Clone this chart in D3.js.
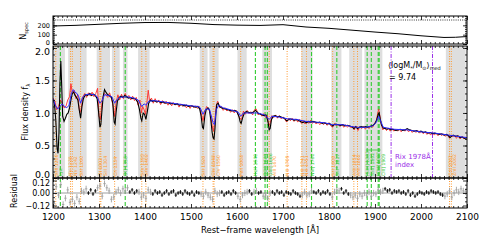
<!DOCTYPE html>
<html>
<head>
<meta charset="utf-8">
<script src="https://cdn.jsdelivr.net/npm/d3@7"></script>
<style>
  body { margin: 0; background: #fff; }
  svg { display: block; }
  text { font-family: "DejaVu Sans", sans-serif; }
</style>
</head>
<body>
<svg id="chart" width="485" height="242"></svg>
<script>
// number of stacked spectra per wavelength
const nspec = [[1200,193],[1250,200],[1300,211],[1350,222],[1400,230],[1450,231],[1500,222],[1550,208],[1600,202],
  [1650,199],[1700,207],[1750,182],[1800,168],[1850,148],[1900,128],[1950,110],[2000,88],[2050,70],[2075,72],[2100,80]];
const nspecTotal = 257;

// stacked spectrum (black)
const stack = [[1200,1.21],[1203,1.15],[1206,0.90],[1209,0.45],[1211,0.38],[1213,0.70],[1215,1.45],[1217,1.80],[1219,1.40],
  [1221,0.95],[1224,0.87],[1227,0.92],[1230,0.98],[1233,1.00],[1236,1.08],[1239,1.20],[1242,1.30],[1245,1.32],[1248,1.27],
  [1251,1.24],[1254,1.20],[1257,1.05],[1260,0.92],[1263,1.10],[1266,1.22],[1270,1.28],[1275,1.27],[1280,1.30],[1284,1.27],
  [1288,1.29],[1292,1.27],[1296,1.22],[1299,1.02],[1302,0.78],[1304,0.82],[1306,1.00],[1309,1.25],[1312,1.36],[1315,1.32],
  [1319,1.28],[1323,1.26],[1327,1.24],[1330,1.15],[1333,0.86],[1335,0.83],[1337,1.00],[1340,1.18],[1344,1.24],[1348,1.26],
  [1352,1.24],[1356,1.27],[1360,1.25],[1364,1.23],[1368,1.24],[1372,1.22],[1376,1.23],[1380,1.21],[1384,1.17],[1388,1.05],
  [1391,0.92],[1393,0.88],[1396,1.00],[1399,0.98],[1402,0.90],[1405,1.02],[1408,1.15],[1412,1.20],[1416,1.18],[1420,1.19],
  [1425,1.17],[1430,1.18],[1435,1.16],[1440,1.17],[1445,1.15],[1450,1.16],[1455,1.14],[1460,1.15],[1465,1.13],[1470,1.14],
  [1475,1.12],[1480,1.13],[1485,1.11],[1490,1.12],[1495,1.10],[1500,1.11],[1505,1.10],[1510,1.09],[1515,1.10],[1519,1.06],
  [1522,0.95],[1525,0.78],[1527,0.76],[1530,0.95],[1533,1.05],[1537,1.08],[1540,1.05],[1543,0.90],[1546,0.70],[1548,0.62],
  [1550,0.60],[1552,0.75],[1554,0.98],[1556,1.13],[1559,1.15],[1562,1.10],[1566,1.08],[1570,1.07],[1575,1.06],[1580,1.05],
  [1585,1.04],[1590,1.03],[1595,1.04],[1600,1.02],[1604,0.95],[1607,0.86],[1609,0.84],[1612,0.92],[1616,1.00],[1620,1.02],
  [1625,1.01],[1630,1.00],[1635,1.01],[1640,1.04],[1643,1.02],[1647,0.99],[1651,0.98],[1655,0.97],[1659,0.96],[1663,0.97],
  [1667,0.88],[1670,0.74],[1672,0.76],[1675,0.90],[1679,0.95],[1683,0.96],[1688,0.94],[1693,0.95],[1698,0.93],[1703,0.92],
  [1708,0.88],[1711,0.89],[1715,0.91],[1720,0.90],[1725,0.89],[1730,0.90],[1735,0.88],[1740,0.86],[1743,0.85],[1747,0.87],
  [1751,0.85],[1755,0.87],[1760,0.86],[1765,0.87],[1770,0.86],[1775,0.85],[1780,0.86],[1785,0.84],[1790,0.85],[1795,0.83],
  [1800,0.84],[1805,0.82],[1808,0.80],[1811,0.82],[1815,0.83],[1820,0.82],[1825,0.81],[1830,0.82],[1835,0.80],[1840,0.81],
  [1845,0.80],[1850,0.79],[1854,0.76],[1858,0.79],[1862,0.76],[1866,0.78],[1870,0.79],[1875,0.78],[1880,0.79],[1884,0.78],
  [1888,0.79],[1892,0.80],[1896,0.81],[1900,0.84],[1904,0.90],[1907,0.98],[1909,1.00],[1911,0.92],[1914,0.82],[1918,0.77],
  [1922,0.76],[1926,0.75],[1930,0.76],[1935,0.74],[1940,0.75],[1945,0.73],[1950,0.74],[1955,0.75],[1960,0.73],[1965,0.74],
  [1970,0.76],[1975,0.74],[1980,0.73],[1985,0.72],[1990,0.73],[1995,0.71],[2000,0.72],[2005,0.70],[2010,0.71],[2015,0.69],
  [2020,0.70],[2025,0.68],[2030,0.69],[2035,0.68],[2040,0.67],[2045,0.68],[2050,0.66],[2055,0.67],[2060,0.65],[2063,0.62],
  [2066,0.64],[2070,0.66],[2075,0.64],[2080,0.65],[2085,0.62],[2090,0.63],[2095,0.61],[2100,0.62]];

// second spectrum (red, noisier)
const redSpec = [[1200,1.23],[1204,1.18],[1208,1.05],[1212,1.10],[1216,1.20],[1220,1.15],[1224,1.08],[1228,1.10],[1232,1.20],
  [1236,1.25],[1239,1.45],[1242,1.30],[1246,1.35],[1250,1.22],[1254,1.28],[1258,1.00],[1261,1.05],[1265,1.25],[1269,1.30],
  [1273,1.24],[1277,1.31],[1281,1.26],[1285,1.32],[1289,1.25],[1293,1.30],[1297,1.38],[1300,0.95],[1303,0.90],[1307,1.20],
  [1311,1.30],[1315,1.28],[1319,1.24],[1323,1.31],[1327,1.22],[1331,1.10],[1334,0.95],[1337,1.15],[1341,1.28],[1345,1.20],
  [1349,1.29],[1353,1.22],[1357,1.30],[1361,1.23],[1365,1.27],[1369,1.20],[1373,1.26],[1377,1.19],[1381,1.24],[1385,1.12],
  [1389,1.20],[1392,1.00],[1395,1.10],[1398,1.05],[1401,0.98],[1404,1.15],[1407,1.35],[1410,1.18],[1414,1.23],[1418,1.15],
  [1422,1.22],[1426,1.16],[1430,1.20],[1434,1.13],[1438,1.19],[1442,1.14],[1446,1.18],[1450,1.12],[1454,1.17],[1458,1.11],
  [1462,1.16],[1466,1.12],[1470,1.15],[1474,1.09],[1478,1.14],[1482,1.10],[1486,1.13],[1490,1.08],[1494,1.12],[1498,1.07],
  [1502,1.12],[1506,1.08],[1510,1.11],[1514,1.07],[1518,1.10],[1522,1.00],[1526,0.88],[1530,1.02],[1534,1.10],[1538,1.06],
  [1542,1.00],[1546,0.80],[1549,0.72],[1552,0.90],[1555,1.12],[1558,1.18],[1562,1.08],[1566,1.10],[1570,1.04],[1574,1.08],
  [1578,1.03],[1582,1.06],[1586,1.01],[1590,1.05],[1594,1.00],[1598,1.04],[1602,0.98],[1606,0.92],[1610,0.90],[1614,1.03],
  [1618,0.98],[1622,1.04],[1626,0.99],[1630,1.02],[1634,0.97],[1638,1.05],[1642,1.06],[1646,0.97],[1650,1.00],[1654,0.95],
  [1658,0.99],[1662,0.93],[1666,0.96],[1669,0.80],[1672,0.84],[1676,0.96],[1680,0.93],[1684,0.97],[1688,0.92],[1692,0.96],
  [1696,0.91],[1700,0.94],[1704,0.90],[1708,0.86],[1712,0.92],[1716,0.88],[1720,0.92],[1724,0.87],[1728,0.91],[1732,0.86],
  [1736,0.90],[1740,0.84],[1744,0.88],[1748,0.83],[1752,0.88],[1756,0.84],[1760,0.89],[1764,0.84],[1768,0.87],[1772,0.83],
  [1776,0.86],[1780,0.82],[1784,0.86],[1788,0.82],[1792,0.85],[1796,0.81],[1800,0.85],[1804,0.80],[1808,0.78],[1812,0.84],
  [1816,0.80],[1820,0.83],[1824,0.79],[1828,0.83],[1832,0.78],[1836,0.82],[1840,0.78],[1844,0.81],[1848,0.77],[1852,0.80],
  [1855,0.74],[1859,0.80],[1863,0.73],[1867,0.79],[1871,0.76],[1875,0.80],[1879,0.75],[1883,0.79],[1887,0.76],[1891,0.80],
  [1895,0.78],[1899,0.84],[1903,0.88],[1906,1.00],[1908,1.06],[1910,0.98],[1913,0.85],[1917,0.74],[1921,0.78],[1925,0.73],
  [1929,0.77],[1933,0.72],[1937,0.76],[1941,0.72],[1945,0.75],[1949,0.72],[1953,0.75],[1957,0.71],[1961,0.75],[1965,0.72],
  [1969,0.75],[1973,0.71],[1977,0.74],[1981,0.70],[1985,0.73],[1989,0.70],[1993,0.73],[1997,0.69],[2001,0.72],[2005,0.68],
  [2009,0.71],[2013,0.67],[2017,0.70],[2021,0.66],[2025,0.70],[2029,0.66],[2033,0.69],[2037,0.65],[2041,0.69],[2045,0.65],
  [2049,0.68],[2053,0.64],[2057,0.67],[2061,0.62],[2065,0.66],[2069,0.63],[2073,0.66],[2077,0.61],[2081,0.65],[2085,0.60],
  [2089,0.64],[2093,0.60],[2097,0.63],[2100,0.61]];

// best-fit model (blue)
const model = [[1200,1.22],[1205,1.12],[1210,1.06],[1215,1.10],[1220,1.14],[1225,1.10],[1230,1.08],[1235,1.12],[1240,1.30],
  [1244,1.36],[1248,1.32],[1252,1.30],[1256,1.25],[1260,1.15],[1264,1.24],[1270,1.28],[1280,1.29],[1290,1.28],[1296,1.25],
  [1302,1.15],[1306,1.18],[1312,1.28],[1320,1.27],[1328,1.25],[1334,1.15],[1338,1.20],[1345,1.24],[1360,1.25],[1375,1.23],
  [1385,1.20],[1393,1.10],[1398,1.14],[1402,1.12],[1408,1.18],[1420,1.19],[1440,1.17],[1460,1.15],[1480,1.13],[1500,1.11],
  [1515,1.10],[1520,1.08],[1526,0.98],[1532,1.06],[1540,1.06],[1548,0.85],[1551,0.82],[1555,1.05],[1560,1.12],[1570,1.08],
  [1590,1.04],[1603,1.01],[1608,0.95],[1614,1.00],[1630,1.00],[1645,1.00],[1660,0.97],[1670,0.90],[1676,0.95],[1690,0.94],
  [1710,0.91],[1730,0.90],[1750,0.87],[1770,0.86],[1790,0.85],[1808,0.82],[1830,0.82],[1850,0.79],[1862,0.78],[1880,0.78],
  [1895,0.80],[1903,0.86],[1908,0.95],[1912,0.88],[1918,0.78],[1940,0.75],[1970,0.74],[2000,0.71],[2030,0.69],[2060,0.66],
  [2080,0.64],[2100,0.62]];

// residuals, one every 5 A starting at 1202 A
const resStart = 1202, resStep = 5;
const residuals = [
  -0.10, 0.06,-0.02, 0.08,-0.11,-0.05, 0.03,-0.09,-0.06,-0.10,
  -0.04,-0.08, 0.02, 0.01, 0.04, 0.00, 0.03,-0.01, 0.02, 0.05,
   0.07,-0.03, 0.09, 0.05, 0.02,-0.06,-0.04, 0.01, 0.03, 0.00,
   0.04, 0.02, 0.05, 0.01, 0.03, 0.00, 0.02, 0.01,-0.04,-0.02,
  -0.05, 0.03, 0.01,-0.01, 0.02, 0.00, 0.01,-0.02, 0.00, 0.02,
  -0.01, 0.01, 0.02,-0.02, 0.00, 0.01,-0.01, 0.02, 0.00,-0.01,
   0.01,-0.02, 0.01, 0.00,-0.01,-0.03, 0.01,-0.02,-0.04,-0.06,
   0.02,-0.01, 0.00, 0.01,-0.02, 0.00, 0.01,-0.01, 0.02, 0.00,
  -0.03,-0.06,-0.02, 0.00, 0.01, 0.02,-0.01, 0.01, 0.02, 0.00,
   0.01,-0.03,-0.02,-0.05, 0.00, 0.01,-0.01, 0.02, 0.00, 0.01,
  -0.02, 0.01, 0.00,-0.01, 0.02, 0.00,-0.01,-0.03,-0.02, 0.01,
  -0.02,-0.01, 0.02, 0.01, 0.00, 0.02,-0.01, 0.01, 0.00, 0.02,
  -0.01,-0.04, 0.01, 0.03, 0.02, 0.04, 0.00, 0.02,-0.01,-0.02,
  -0.04,-0.02,-0.05,-0.01,-0.03, 0.00,-0.02, 0.01,-0.03, 0.00,
  -0.01, 0.03, 0.01, 0.02, 0.04, 0.02, 0.03, 0.00, 0.02, 0.01,
   0.02, 0.00, 0.01,-0.01, 0.02,-0.02, 0.00,-0.03,-0.01, 0.01,
   0.00,-0.01, 0.01, 0.00, 0.02, 0.01, 0.00, 0.01,-0.01,-0.02,
  -0.03,-0.01, 0.02,-0.04, 0.00, 0.03, 0.01, 0.04, 0.02, 0.01];
const resErrGood = 0.018, resErrMasked = 0.03;

// masked windows (grey bands, grey residuals)
const greyBands = [[1200,1226],[1233,1273],[1295,1324],[1328,1345],[1352,1362],[1385,1410],[1519,1536],[1540,1560],
  [1601,1621],[1655,1676],[1740,1764],[1805,1827],[1844,1872],[1877,1916],[2054,2097]];
const residMask = [[1200,1275],[1293,1347],[1352,1362],[1383,1412],[1518,1562],[1600,1622],[1636,1644],[1655,1676],
  [1738,1766],[1803,1822],[1843,1918],[2052,2100]];

// interstellar absorption lines (orange dotted) and nebular / stellar lines (green dashed)
const ismLines = [[1206,"SiIII 1206"],[1238,"NV 1238"],[1242,"NV 1242"],[1260,"SiII 1260"],[1302,"OI 1302"],
  [1304,"SiII 1304"],[1334,"CII 1334"],[1393,"SiIV 1393"],[1402,"SiIV 1402"],[1526,"SiII 1526"],[1548,"CIV 1548"],
  [1550,"CIV 1550"],[1608,"FeII 1608"],[1670,"AlII 1670"],[1709,"NiII 1709"],[1741,"NiII 1741"],[1751,"NiII 1751"],
  [1808,"SiII 1808"],[1854,"AlIII 1854"],[1862,"AlIII 1862"],[2062,"CrII 2062"],[2066,"ZnII 2062"]];
const emLines = [[1216,"Lyα"],[1357,"OI] 1356"],[1640,"HeII 1640"],[1661,"OIII] 1661"],[1666,"OIII] 1666"],
  [1762,"NIII] 1760"],[1817,"SiII* 1817"],[1883,"[SiIII] 1883"],[1892,"SiIII] 1892"],[1907,"[CIII] 1907"],[1909,"CIII] 1909"]];
const rixIndex = [1935, 2025];

const xTickMajor = d3.range(1200, 2101, 100);
const xTickMinor = d3.range(1200, 2101, 10);

const C = { orange: "#ff9a30", green: "#33cc33", purple: "#9b30e8", red: "#ff2a2a", blue: "#2b2bff", band: "#dedede" };

const svg = d3.select("#chart");
const X0 = 53, X1 = 467;
const x = d3.scaleLinear().domain([1200, 2100]).range([X0, X1]);
const yTop = d3.scaleLinear().domain([0, 300]).range([44, 16]);
const yMain = d3.scaleLinear().domain([0, 2.03]).range([178, 46]);
const yRes = d3.scaleLinear().domain([-0.144, 0.144]).range([208, 178]);

const inMask = (w, ranges) => ranges.some(r => w >= r[0] && w <= r[1]);

// clip paths
function clip(id, y0, y1) {
  svg.append("clipPath").attr("id", id).append("rect")
    .attr("x", X0).attr("y", y0).attr("width", X1 - X0).attr("height", y1 - y0);
}
clip("cTop", 16, 44); clip("cMain", 46, 178); clip("cRes", 178, 208);

// grey bands in main panel
svg.append("g").selectAll("rect").data(greyBands).join("rect")
  .attr("x", d => x(d[0])).attr("width", d => x(d[1]) - x(d[0]))
  .attr("y", yMain.range()[1]).attr("height", yMain.range()[0] - yMain.range()[1])
  .attr("fill", C.band);

// vertical line markers through main + residual panels
const markers = svg.append("g");
markers.selectAll("line.ism").data(ismLines).join("line")
  .attr("x1", d => x(d[0])).attr("x2", d => x(d[0])).attr("y1", 46).attr("y2", 208)
  .attr("stroke", C.orange).attr("stroke-width", 1).attr("stroke-dasharray", "1,1.5");
markers.selectAll("line.em").data(emLines).join("line")
  .attr("x1", d => x(d[0])).attr("x2", d => x(d[0])).attr("y1", 46).attr("y2", 208)
  .attr("stroke", C.green).attr("stroke-width", 1.1).attr("stroke-dasharray", "4,2");
markers.selectAll("line.rix").data(rixIndex).join("line")
  .attr("x1", d => x(d)).attr("x2", d => x(d)).attr("y1", 46).attr("y2", 178)
  .attr("stroke", C.purple).attr("stroke-width", 1).attr("stroke-dasharray", "4,1.5,1,1.5");

// rotated line labels at the bottom of main panel, nudged apart when crowded
const labels = ismLines.map(d => ({ w: d[0], t: d[1], c: C.orange }))
  .concat(emLines.map(d => ({ w: d[0], t: d[1], c: C.green })))
  .sort((a, b) => a.w - b.w);
let lastX = -99;
labels.forEach(l => { l.px = Math.max(x(l.w) + 2, lastX + 4.6); lastX = l.px; });
svg.append("g").selectAll("text").data(labels).join("text")
  .attr("transform", d => `translate(${d.px},176) rotate(-90)`)
  .attr("font-size", 4.6).attr("fill", d => d.c).text(d => d.t);
svg.append("line").attr("x1", x(1880)).attr("x2", x(1912)).attr("y1", 150).attr("y2", 150)
  .attr("stroke", C.green).attr("stroke-width", 0.8);

// spectra
const line = d3.line().x(d => x(d[0])).y(d => yMain(d[1]));
const spec = svg.append("g").attr("clip-path", "url(#cMain)").attr("fill", "none");
spec.append("path").datum(redSpec).attr("d", line).attr("stroke", C.red).attr("stroke-width", 0.9);
spec.append("path").datum(stack).attr("d", line).attr("stroke", "#000").attr("stroke-width", 1.1);
spec.append("path").datum(model).attr("d", line).attr("stroke", C.blue).attr("stroke-width", 1);

// top panel: number of spectra
svg.append("line").attr("x1", X0).attr("x2", X1).attr("y1", yTop(nspecTotal)).attr("y2", yTop(nspecTotal))
  .attr("stroke", "#000").attr("stroke-width", 0.8).attr("stroke-dasharray", "1,1.2");
svg.append("path").datum(nspec).attr("clip-path", "url(#cTop)").attr("fill", "none")
  .attr("stroke", "#000").attr("stroke-width", 1)
  .attr("d", d3.line().x(d => x(d[0])).y(d => yTop(d[1])));

// residual panel
svg.append("line").attr("x1", X0).attr("x2", X1).attr("y1", yRes(0)).attr("y2", yRes(0))
  .attr("stroke", "#777").attr("stroke-width", 0.7);
const resData = residuals.map((v, i) => {
  const w = resStart + i * resStep;
  const m = inMask(w, residMask);
  return { w, v, m, e: m ? resErrMasked : resErrGood };
});
const rg = svg.append("g").attr("clip-path", "url(#cRes)");
const pts = rg.selectAll("g").data(resData).join("g").attr("stroke", d => d.m ? "#a0a0a0" : "#000").attr("stroke-width", 0.9);
pts.append("line").attr("x1", d => x(d.w)).attr("x2", d => x(d.w))
  .attr("y1", d => yRes(d.v - d.e)).attr("y2", d => yRes(d.v + d.e));
pts.append("line").attr("x1", d => x(d.w) - 1.2).attr("x2", d => x(d.w) + 1.2)
  .attr("y1", d => yRes(d.v)).attr("y2", d => yRes(d.v));

// frames and inward ticks; nudge shifts crowded edge labels
function frame(yScale, yMajor, yMinor, fmt, xLabels, fs, nudge) {
  const [yb, yt] = yScale.range();
  svg.append("rect").attr("x", X0).attr("y", yt).attr("width", X1 - X0).attr("height", yb - yt)
    .attr("fill", "none").attr("stroke", "#000").attr("stroke-width", 1);
  const clean = g => { g.select(".domain").remove(); g.selectAll("line").attr("stroke-width", 0.8); };
  const add = (axis, tx, ty) => svg.append("g").attr("transform", `translate(${tx},${ty})`).call(axis).call(clean);
  const minorX = xTickMinor.filter(v => v % 100);
  add(d3.axisTop(x).tickValues(minorX).tickSize(-2).tickFormat(""), 0, yt);
  add(d3.axisTop(x).tickValues(xTickMajor).tickSize(-4).tickFormat(""), 0, yt);
  add(d3.axisBottom(x).tickValues(minorX).tickSize(-2).tickFormat(""), 0, yb);
  const bx = add(d3.axisBottom(x).tickValues(xTickMajor).tickSize(-4).tickPadding(6)
    .tickFormat(xLabels ? d3.format("d") : ""), 0, yb);
  bx.selectAll("text").attr("font-size", 9).attr("font-family", "DejaVu Sans").attr("fill", "#000");
  add(d3.axisLeft(yScale).tickValues(yMinor).tickSize(-2).tickFormat(""), X0, 0);
  const ly = add(d3.axisLeft(yScale).tickValues(yMajor).tickSize(-4).tickPadding(3).tickFormat(fmt), X0, 0);
  ly.selectAll("text").attr("font-size", fs).attr("font-family", "DejaVu Sans").attr("fill", "#000")
    .attr("transform", d => `translate(0,${nudge[d] || 0})`);
  add(d3.axisRight(yScale).tickValues(yMinor).tickSize(-2).tickFormat(""), X1, 0);
  add(d3.axisRight(yScale).tickValues(yMajor).tickSize(-4).tickFormat(""), X1, 0);
}
frame(yTop, [0, 100, 200], d3.range(0, 301, 20), d3.format("d"), false, 6.5, { 0: -1.5 });
frame(yMain, [0, 0.5, 1, 1.5, 2], d3.range(0, 2.01, 0.1), d3.format(".1f"), false, 9.5, { 0: -4, 2: 3.5 });
frame(yRes, [-0.12, 0, 0.12], [-0.08, -0.04, 0.04, 0.08], d => d3.format(".2f")(d).replace("-", "\u2212"), true,
  8, { 0.12: 2 });

// axis titles
const nt = svg.append("text").attr("transform", "translate(26,31) rotate(-90)").attr("text-anchor", "middle").attr("font-size", 8);
nt.append("tspan").text("N");
nt.append("tspan").attr("font-size", 5).attr("dy", 1.5).text("spec");
const ft = svg.append("text").attr("transform", "translate(28,112) rotate(-90)").attr("text-anchor", "middle").attr("font-size", 8);
ft.append("tspan").text("Flux density f");
ft.append("tspan").attr("font-size", 5.5).attr("dy", 1.5).text("λ");
svg.append("text").attr("transform", "translate(17,191) rotate(-90)").attr("text-anchor", "middle")
  .attr("font-size", 8).text("Residual");
svg.append("text").attr("x", 260).attr("y", 233).attr("text-anchor", "middle").attr("font-size", 8.5)
  .text("Rest\u2212frame wavelength [Å]");

// mass annotation
const ma = svg.append("text").attr("x", 388).attr("y", 68).attr("font-size", 8);
ma.append("tspan").text("⟨logM");
ma.append("tspan").attr("font-size", 5).attr("dy", 1.5).text("*");
ma.append("tspan").attr("dy", -1.5).text("/M");
ma.append("tspan").attr("font-size", 5).attr("dy", 1.5).text("⊙");
ma.append("tspan").attr("dy", -1.5).text("⟩");
ma.append("tspan").attr("font-size", 5).attr("dy", 1.5).text("med");
svg.append("text").attr("x", 389).attr("y", 80).attr("font-size", 8).text("=  9.74");

// Rix index label
svg.append("text").attr("x", 395).attr("y", 159).attr("font-size", 7).attr("fill", C.purple).text("Rix 1978Å");
svg.append("text").attr("x", 395).attr("y", 166.5).attr("font-size", 7).attr("fill", C.purple).text("index");
</script>
</body>
</html>
